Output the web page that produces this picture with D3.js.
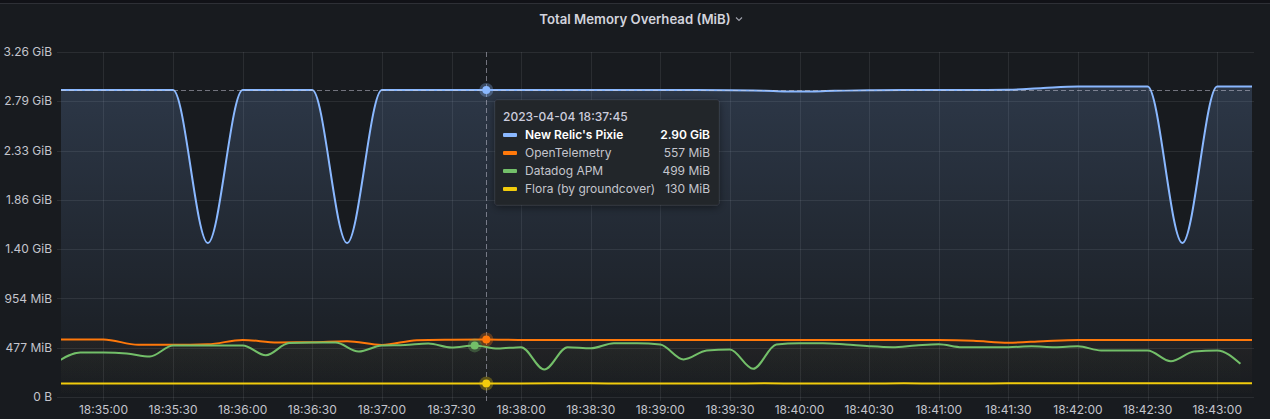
<!DOCTYPE html>
<html>
<head>
<meta charset="utf-8">
<script src="https://cdn.jsdelivr.net/npm/d3@7"></script>
<style>
  html, body { margin: 0; padding: 0; background: #111217; }
  svg { display: block; font-family: Inter, "Noto Sans", sans-serif; }
</style>
</head>
<body>
<svg width="1270" height="419"></svg>
<script>
var title = 'Total Memory Overhead (MiB)';
var seriesNames = ["New Relic's Pixie", 'OpenTelemetry', 'Datadog APM', 'Flora (by groundcover)'];
var seriesColors = ['#8ab8ff', '#ff780a', '#73bf69', '#f2cc0c'];

// values in MiB, one sample every 15s from 18:34:30 to 18:43:15
var pixie = [2970, 2970, 2970, 2970, 2970, 1490, 2970, 2970, 2970, 1490,
             2970, 2970, 2970, 2970, 2970, 2970, 2970, 2970, 2970, 2970,
             2968, 2962, 2955, 2962, 2968, 2970, 2970, 2970, 2972, 2990,
             3004, 3004, 3004, 1490, 3004, 3004];
var otel = [557, 557, 557, 505, 505, 510, 552, 528, 530, 540,
            503, 550, 555, 557, 552, 552, 552, 552, 552, 552,
            552, 552, 552, 552, 552, 552, 552, 545, 525, 540,
            552, 552, 552, 552, 552, 552];
var flora = [130, 130, 130, 130, 130, 130, 130, 130, 130, 130,
             130, 130, 130, 130, 130, 132, 132, 130, 130, 130,
             131, 132, 131, 130, 131, 132, 131, 131, 132, 133,
             133, 133, 134, 134, 134, 134];
// datadog reports every 10s, 18:34:40 to 18:43:10
var datadog = [339, 430, 430, 421, 392, 498, 498, 498, 498, 404,
               522, 527, 527, 440, 498, 503, 518, 479, 499, 469,
               482, 266, 482, 472, 521, 521, 508, 363, 450, 460,
               273, 508, 521, 521, 508, 491, 482, 498, 511, 482,
               482, 482, 491, 482, 491, 450, 450, 450, 346, 440,
               450, 321];

var hoverTime = new Date(2023, 3, 4, 18, 37, 45);
var rangeStart = new Date(2023, 3, 4, 18, 34, 41, 700);
var rangeEnd = new Date(2023, 3, 4, 18, 43, 15);
var yMaxBytes = 3.5e9;
var yStepBytes = 5e8;

function sampleTimes(values, h, m, s, step) {
   return values.map(function(v, i) {
      return new Date(2023, 3, 4, h, m, s + i * step);
   });
}

var series = [
   { name: seriesNames[0], color: seriesColors[0], values: pixie,   times: sampleTimes(pixie, 18, 34, 30, 15) },
   { name: seriesNames[1], color: seriesColors[1], values: otel,    times: sampleTimes(otel, 18, 34, 30, 15) },
   { name: seriesNames[2], color: seriesColors[2], values: datadog, times: sampleTimes(datadog, 18, 34, 40, 10) },
   { name: seriesNames[3], color: seriesColors[3], values: flora,   times: sampleTimes(flora, 18, 34, 30, 15) }
];

var MiB = 1048576, GiB = 1073741824;
function fmtBytes(mib) {
   var b = mib * MiB;
   if (b < 1) return '0 B';
   if (b >= GiB) return (b / GiB).toFixed(2) + ' GiB';
   return Math.round(mib) + ' MiB';
}

var plot = { left: 61, right: 1252, top: 52, bottom: 397 };

var x = d3.scaleTime().domain([rangeStart, rangeEnd]).range([plot.left, plot.right]);
var y = d3.scaleLinear().domain([0, yMaxBytes / MiB]).range([plot.bottom, plot.top]);
var yTicks = d3.range(0, yMaxBytes + 1, yStepBytes).map(function(b) { return b / MiB; });
var xTicks = x.ticks(d3.timeSecond.every(30));

var svg = d3.select('svg');
var defs = svg.append('defs');

// panel
svg.append('rect').attr('x', 0).attr('y', 3).attr('width', 1270).attr('height', 416)
   .attr('fill', '#181b1f');
svg.append('line').attr('x1', 0).attr('x2', 1270).attr('y1', 3.5).attr('y2', 3.5)
   .attr('stroke', 'rgba(204,204,220,0.12)');

svg.append('text')
   .attr('x', 635).attr('y', 24)
   .attr('text-anchor', 'middle')
   .attr('fill', '#d2d3dc')
   .attr('font-size', 13.2).attr('font-weight', 600)
   .text(title);
svg.append('path')
   .attr('d', 'M736,17.5 L739,20.5 L742,17.5')
   .attr('fill', 'none').attr('stroke', '#a0a2ad').attr('stroke-width', 1.1);

defs.append('clipPath').attr('id', 'plotClip')
   .append('rect')
   .attr('x', plot.left).attr('y', plot.top - 5)
   .attr('width', plot.right - plot.left).attr('height', plot.bottom - plot.top + 5);

// grid
var grid = svg.append('g').classed('grid', true)
   .attr('stroke', 'rgba(204,204,220,0.10)').attr('stroke-width', 1);
grid.selectAll('line.h')
   .data(yTicks).enter().append('line').classed('h', true)
   .attr('x1', plot.left - 4).attr('x2', plot.right + 2)
   .attr('y1', function(d) { return Math.round(y(d)) + 0.5; })
   .attr('y2', function(d) { return Math.round(y(d)) + 0.5; });
grid.selectAll('line.v')
   .data(xTicks).enter().append('line').classed('v', true)
   .attr('y1', plot.top).attr('y2', plot.bottom + 4)
   .attr('x1', function(d) { return Math.round(x(d)) + 0.5; })
   .attr('x2', function(d) { return Math.round(x(d)) + 0.5; });

// fills (opacity gradient over the plot height)
series.forEach(function(s, i) {
   var g = defs.append('linearGradient').attr('id', 'fill' + i)
      .attr('gradientUnits', 'userSpaceOnUse')
      .attr('x1', 0).attr('x2', 0).attr('y1', plot.top).attr('y2', plot.bottom);
   g.append('stop').attr('offset', 0).attr('stop-color', s.color).attr('stop-opacity', 0.2);
   g.append('stop').attr('offset', 1).attr('stop-color', s.color).attr('stop-opacity', 0);
});

var area = d3.area().curve(d3.curveMonotoneX)
   .x(function(d) { return x(d.t); })
   .y0(plot.bottom)
   .y1(function(d) { return y(d.v); });
var line = d3.line().curve(d3.curveMonotoneX)
   .x(function(d) { return x(d.t); })
   .y(function(d) { return y(d.v); });

function points(s) {
   return s.values.map(function(v, i) { return { t: s.times[i], v: v }; });
}

var layer = svg.append('g').attr('clip-path', 'url(#plotClip)');
series.forEach(function(s, i) {
   layer.append('path').attr('d', area(points(s))).attr('fill', 'url(#fill' + i + ')');
});
series.forEach(function(s) {
   layer.append('path').attr('d', line(points(s)))
      .attr('fill', 'none').attr('stroke', s.color).attr('stroke-width', 2)
      .attr('stroke-linejoin', 'round');
});

// hovered sample of each series (last sample at or before hover time)
var hovered = series.map(function(s) {
   var idx = d3.bisectRight(s.times, hoverTime) - 1;
   return { s: s, t: s.times[idx], v: s.values[idx] };
});

var cross = svg.append('g').attr('stroke', 'rgba(204,204,220,0.5)')
   .attr('stroke-dasharray', '5 3').attr('stroke-width', 1);
cross.append('line')
   .attr('x1', Math.round(x(hoverTime)) + 0.5).attr('x2', Math.round(x(hoverTime)) + 0.5)
   .attr('y1', plot.top).attr('y2', plot.bottom + 6);
cross.append('line')
   .attr('x1', plot.left).attr('x2', plot.right)
   .attr('y1', Math.round(y(hovered[0].v)) + 0.5).attr('y2', Math.round(y(hovered[0].v)) + 0.5);

var dots = svg.append('g');
hovered.forEach(function(h) {
   dots.append('circle').attr('cx', x(h.t)).attr('cy', y(h.v)).attr('r', 7)
      .attr('fill', h.s.color).attr('fill-opacity', 0.3);
   dots.append('circle').attr('cx', x(h.t)).attr('cy', y(h.v)).attr('r', 4)
      .attr('fill', h.s.color);
});

// axes labels
var axisColor = '#c4c5cd';
svg.append('g').selectAll('text')
   .data(yTicks).enter().append('text')
   .attr('x', 52).attr('y', function(d) { return y(d); })
   .attr('dy', '0.35em')
   .attr('text-anchor', 'end')
   .attr('fill', axisColor).attr('font-size', 12)
   .text(fmtBytes);
var timeFmt = d3.timeFormat('%H:%M:%S');
svg.append('g').selectAll('text')
   .data(xTicks).enter().append('text')
   .attr('x', function(d) { return x(d); }).attr('y', 414)
   .attr('text-anchor', 'middle')
   .attr('fill', axisColor).attr('font-size', 12)
   .text(timeFmt);

// tooltip
var shadow = defs.append('filter').attr('id', 'shadow')
   .attr('x', '-20%').attr('y', '-20%').attr('width', '140%').attr('height', '150%');
shadow.append('feDropShadow').attr('dx', 0).attr('dy', 2).attr('stdDeviation', 4)
   .attr('flood-color', '#000').attr('flood-opacity', 0.5);

var tip = svg.append('g').attr('transform', 'translate(495,100)');
tip.append('rect').attr('width', 224).attr('height', 105).attr('rx', 2)
   .attr('fill', '#22252b').attr('stroke', 'rgba(204,204,220,0.06)')
   .attr('filter', 'url(#shadow)');
tip.append('text').attr('x', 8).attr('y', 21)
   .attr('fill', '#ccccdc').attr('font-size', 12).attr('font-weight', 500)
   .text(d3.timeFormat('%Y-%m-%d %H:%M:%S')(hoverTime));

var rows = tip.selectAll('g.row').data(hovered).enter().append('g').classed('row', true)
   .attr('transform', function(d, i) { return 'translate(0,' + (35 + i * 18) + ')'; });
rows.append('rect').attr('x', 8).attr('y', -2).attr('width', 14).attr('height', 4)
   .attr('rx', 1).attr('fill', function(d) { return d.s.color; });
rows.append('text').attr('x', 30).attr('dy', '0.35em')
   .attr('font-size', 12)
   .attr('fill', function(d, i) { return i === 0 ? '#ffffff' : '#c4c5cd'; })
   .attr('font-weight', function(d, i) { return i === 0 ? 600 : 400; })
   .text(function(d) { return d.s.name; });
rows.append('text').attr('x', 215).attr('dy', '0.35em')
   .attr('text-anchor', 'end').attr('font-size', 12)
   .attr('fill', function(d, i) { return i === 0 ? '#ffffff' : '#c4c5cd'; })
   .attr('font-weight', function(d, i) { return i === 0 ? 600 : 400; })
   .text(function(d) { return fmtBytes(d.v); });
</script>
</body>
</html>
